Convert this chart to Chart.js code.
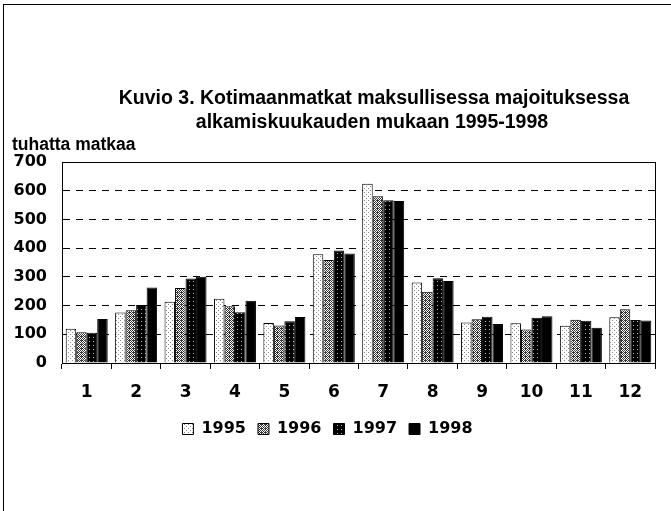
<!DOCTYPE html>
<html>
<head>
<meta charset="utf-8">
<script src="https://cdn.jsdelivr.net/npm/chart.js@4/dist/chart.umd.min.js"></script>
<style>
  body { margin: 0; background: #fff; }
  #wrap { position: relative; width: 671px; height: 511px; overflow: hidden; }
  #frame { position: absolute; left: 3px; top: 4px; width: 700px; height: 600px; border: 1px solid #000; }
  canvas { position: absolute; left: 0; top: 0; }
</style>
</head>
<body>
<div id="wrap">
  <div id="frame"></div>
  <canvas id="myChart" width="671" height="511"></canvas>
</div>
<script>
const months = ['1', '2', '3', '4', '5', '6', '7', '8', '9', '10', '11', '12'];
const years = ['1995', '1996', '1997', '1998'];
const v1995 = [119, 176, 213, 224, 139, 379, 624, 280, 141, 138, 130, 159];
const v1996 = [107, 184, 261, 198, 131, 359, 581, 248, 152, 117, 151, 187];
const v1997 = [105, 202, 294, 177, 145, 392, 567, 295, 161, 158, 147, 150];
const v1998 = [153, 263, 300, 217, 160, 381, 564, 286, 136, 163, 123, 148];
const yTicks = [0, 100, 200, 300, 400, 500, 600, 700];
const titleLines = ['Kuvio 3. Kotimaanmatkat maksullisessa majoituksessa', 'alkamiskuukauden mukaan 1995-1998'];
const unitLabel = 'tuhatta matkaa';

// little stipple fills, like the old printed chart
function makePattern(bg, fg, dots) {
  const c = document.createElement('canvas');
  c.width = 4;
  c.height = 4;
  const g = c.getContext('2d');
  g.fillStyle = bg;
  g.fillRect(0, 0, 4, 4);
  g.fillStyle = fg;
  dots.forEach(d => g.fillRect(d[0], d[1], 1, 1));
  return g.createPattern(c, 'repeat');
}

const fills = [
  makePattern('#ffffff', '#888888', [[0, 0], [2, 2]]),
  makePattern('#ffffff', '#333333', [[0, 0], [2, 0], [1, 1], [3, 1], [0, 2], [2, 2], [1, 3], [3, 3], [1, 0]]),
  makePattern('#000000', '#bbbbbb', [[1, 1]]),
  '#000000'
];

const series = [v1995, v1996, v1997, v1998];

const frameAndTitle = {
  id: 'frameAndTitle',
  afterDraw(chart) {
    const ctx = chart.ctx;
    const a = chart.chartArea;
    ctx.save();
    ctx.strokeStyle = '#000';
    ctx.lineWidth = 1;
    ctx.strokeRect(Math.round(a.left) + 0.5, Math.round(a.top) + 0.5, Math.round(a.right - a.left), Math.round(a.bottom - a.top));

    ctx.fillStyle = '#000';
    ctx.textAlign = 'center';
    ctx.textBaseline = 'alphabetic';
    ctx.font = 'bold 19.5px "Liberation Sans", sans-serif';
    ctx.fillText(titleLines[0], 374, 104);
    ctx.fillText(titleLines[1], 372, 128);

    ctx.textAlign = 'left';
    ctx.font = 'bold 17.5px "Liberation Sans", sans-serif';
    ctx.fillText(unitLabel, 12, 150);
    ctx.restore();
  }
};

const ctx = document.getElementById('myChart').getContext('2d');
const myChart = new Chart(ctx, {
  type: 'bar',
  data: {
    labels: months,
    datasets: years.map((y, i) => ({
      label: y,
      data: series[i],
      backgroundColor: fills[i],
      borderColor: '#000',
      borderWidth: 1,
      categoryPercentage: 0.85,
      barPercentage: 1.0
    }))
  },
  options: {
    responsive: false,
    animation: false,
    layout: { padding: { top: 162, right: 16, bottom: 64, left: 0 } },
    plugins: {
      title: { display: false },
      tooltip: { enabled: false },
      legend: {
        position: 'bottom',
        labels: {
          boxWidth: 11,
          boxHeight: 11,
          padding: 12,
          color: '#000',
          font: { family: '"DejaVu Sans"', weight: 'bold', size: 16 }
        }
      }
    },
    scales: {
      x: {
        offset: true,
        afterFit(scale) { scale.height = 46; },
        grid: { display: true, drawOnChartArea: false, drawTicks: true, tickLength: 6, color: '#000' },
        border: { display: true, color: '#000', width: 1 },
        ticks: {
          color: '#000',
          padding: 13,
          maxRotation: 0,
          font: { family: '"DejaVu Sans"', weight: 'bold', size: 17 }
        }
      },
      y: {
        min: 0,
        max: 700,
        afterFit(scale) { scale.width = 62; },
        afterBuildTicks(scale) { scale.ticks = yTicks.map(v => ({ value: v })); },
        grid: { color: '#000', lineWidth: 1, drawTicks: false },
        border: { display: true, color: '#000', width: 1, dash: [7, 6] },
        ticks: {
          color: '#000',
          padding: 15,
          font: { family: '"DejaVu Sans"', weight: 'bold', size: 16 }
        }
      }
    }
  },
  plugins: [frameAndTitle]
});
</script>
</body>
</html>
